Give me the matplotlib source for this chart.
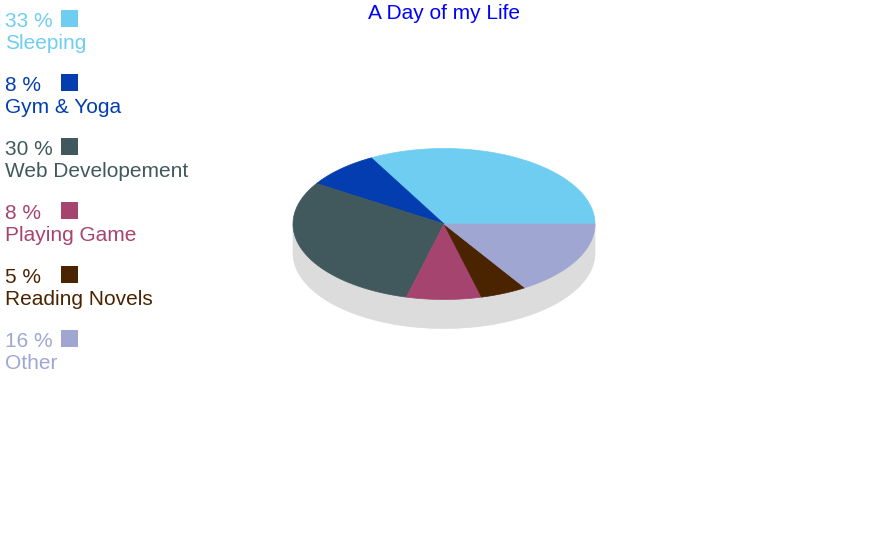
"""
A Day of my Life - flat 3D-style pie with a side legend.
"""
import numpy as np
import matplotlib.pyplot as plt
from matplotlib.patches import Polygon, Rectangle

plt.rcParams['font.family'] = ['Liberation Sans', 'DejaVu Sans']

# ===== Data =====
activities = ['Sleeping', 'Gym & Yoga', 'Web Developement',
              'Playing Game', 'Reading Novels', 'Other']
shares = [33, 8, 30, 8, 5, 16]
colors = ['#70CDF2', '#033DAF', '#41595C', '#A64470', '#4A2400', '#A0A6D2']
title = "A Day of my Life"

# pie geometry in pixel units
cx, cy = 444, 224
rx, ry = 151, 75.5
depth = 29
side_color = '#DCDCDC'

fig = plt.figure(figsize=(8.86, 5.34), dpi=100)
ax = fig.add_axes([0, 0, 1, 1])
ax.set_xlim(0, 886)
ax.set_ylim(534, 0)
ax.axis('off')


def ellipse_pts(t0, t1, dy=0, n=200):
    t = np.radians(np.linspace(t0, t1, n))
    return np.column_stack([cx + rx * np.cos(t), cy + dy - ry * np.sin(t)])


# side of the disc (lower half, extruded)
top_arc = ellipse_pts(180, 360)
bottom_arc = ellipse_pts(360, 180, dy=depth)
ax.add_patch(Polygon(np.vstack([top_arc, bottom_arc]), closed=True,
                     facecolor=side_color, edgecolor=side_color, lw=0.5))

# slices, starting at 3 o'clock, counter-clockwise
total = float(sum(shares))
edges = np.concatenate([[0], np.cumsum(shares)]) / total * 360
for i, c in enumerate(colors):
    arc = ellipse_pts(edges[i], edges[i + 1])
    pts = np.vstack([[cx, cy], arc])
    ax.add_patch(Polygon(pts, closed=True, facecolor=c, edgecolor=c, lw=0.5))

# ===== Legend =====
for i, (name, val, c) in enumerate(zip(activities, shares, colors)):
    y0 = i * 64
    ax.text(5, y0 + 27, f"{val} %", color=c, fontsize=15, va='baseline', ha='left')
    ax.add_patch(Rectangle((61, y0 + 10), 17, 17, facecolor=c, edgecolor='none'))
    ax.text(5, y0 + 49, name, color=c, fontsize=15, va='baseline', ha='left')

ax.text(444, 19, title, color='#0000FF', fontsize=15, ha='center', va='baseline')

fig.savefig('out.png', dpi=100)
